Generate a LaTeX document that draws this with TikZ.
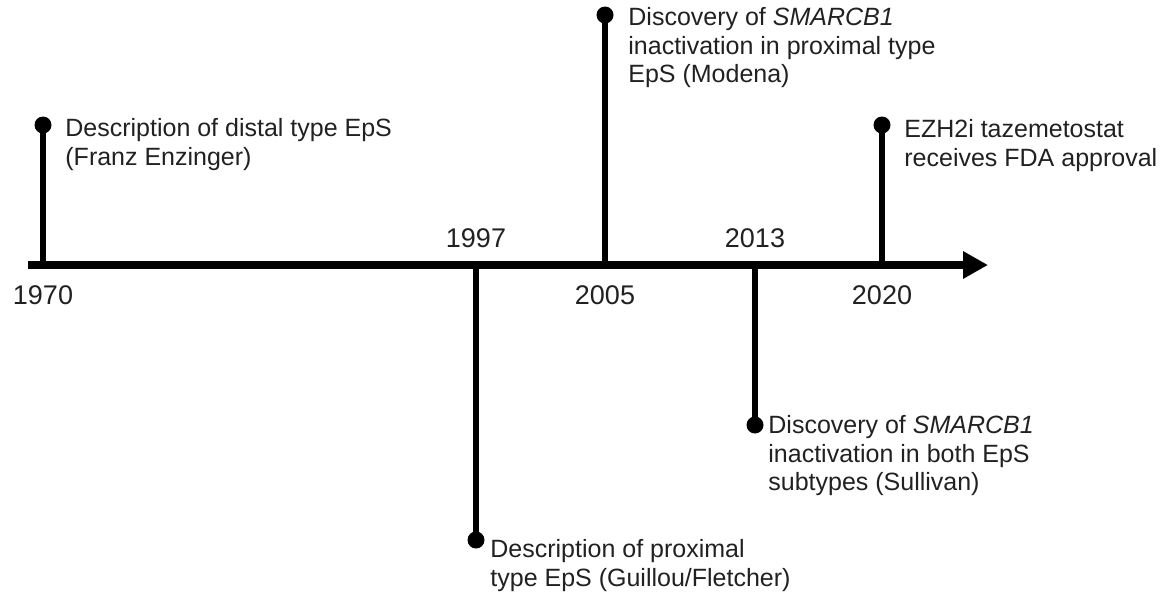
\documentclass[tikz,border=0pt]{standalone}
\usepackage{fontspec}
\setmainfont{Liberation Sans}
\usetikzlibrary{arrows.meta,calc,positioning}
\definecolor{txtgray}{gray}{0.13}
\tikzset{
  timeaxis/.style={line width=4pt, -{Triangle[length=12.5pt,width=13pt]}},
  stem/.style={line width=3pt},
  dot/.style={circle, fill=black, inner sep=0pt, minimum size=8.5pt},
  year/.style={inner sep=0pt, text=txtgray, font=\fontsize{13.5}{16}\selectfont},
  event/.style={anchor=north west, inner sep=0pt, align=left, text=txtgray,
    font=\fontsize{12.5}{14.25}\selectfont}
}

\begin{document}
\begin{tikzpicture}[x=0.5pt, y=-0.5pt]
  \useasboundingbox (0,0) rectangle (1173,591);

  % time axis
  \coordinate (start) at (28,265);
  \coordinate (tip) at (988,265);
  \draw[timeaxis] (start) -- (tip);

  % where the events sit on the axis
  \coordinate (a1970) at (43,265);
  \coordinate (a1997) at (476,265);
  \coordinate (a2005) at (605,265);
  \coordinate (a2013) at (755,265);
  \coordinate (a2020) at (882,265);

  % years
  \node[year, below=10.3pt of a1970] (y1970) {1970};
  \node[year, above=8.5pt of a1997] (y1997) {1997};
  \node[year, below=10.3pt of a2005] (y2005) {2005};
  \node[year, above=8.5pt of a2013] (y2013) {2013};
  \node[year, below=10.3pt of a2020] (y2020) {2020};

  % event dots
  \node[dot] (d1970) at (43,125) {};
  \node[dot] (d1997) at (476,540) {};
  \node[dot] (d2005) at (605,15) {};
  \node[dot] (d2013) at (755,425) {};
  \node[dot] (d2020) at (882,125) {};

  % stems
  \foreach \yr in {1970,1997,2005,2013,2020}
    \draw[stem] (a\yr) -- (d\yr.center);

  % event texts
  \node[event] (t1970) at ($(d1970)+(22,-7)$)
    {Description of distal type EpS\\(Franz Enzinger)};
  \node[event] (t1997) at ($(d1997)+(14,-1)$)
    {Description of proximal\\type EpS (Guillou/Fletcher)};
  \node[event] (t2005) at ($(d2005)+(23,-8)$)
    {Discovery of \textit{SMARCB1}\\inactivation in proximal type\\EpS (Modena)};
  \node[event] (t2013) at ($(d2013)+(13,-10)$)
    {Discovery of \textit{SMARCB1}\\inactivation in both EpS\\subtypes (Sullivan)};
  \node[event] (t2020) at ($(d2020)+(22,-6)$)
    {EZH2i tazemetostat\\receives FDA approval};
\end{tikzpicture}
\end{document}
